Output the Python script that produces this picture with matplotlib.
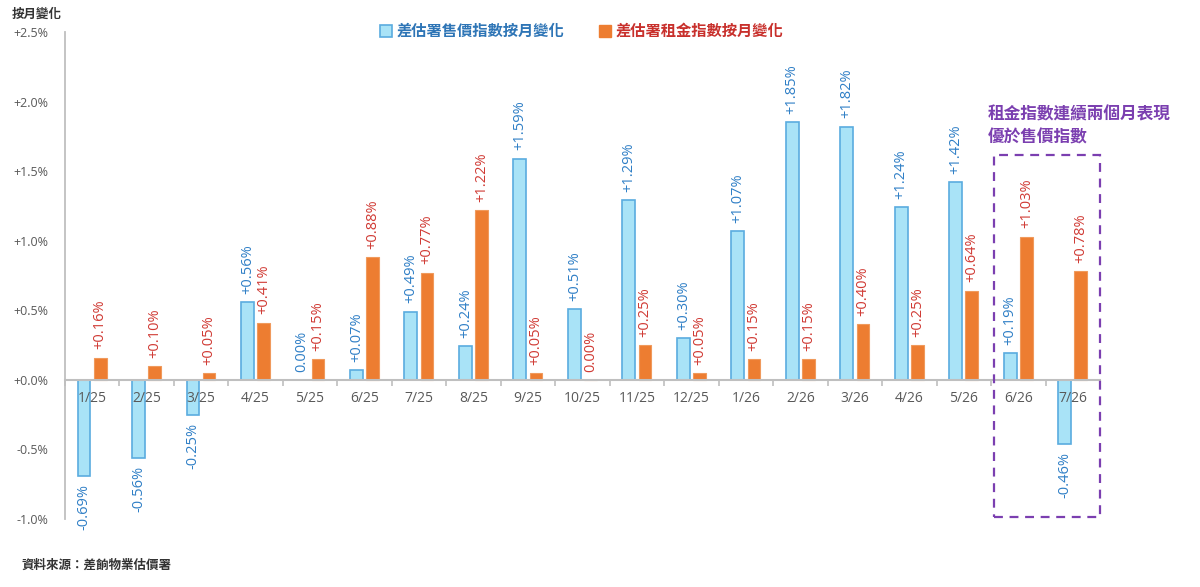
import matplotlib
matplotlib.use("Agg")
import matplotlib.pyplot as plt
from matplotlib.lines import Line2D
from matplotlib.patches import Rectangle
import numpy as np

plt.rcParams['font.family'] = ['Open Sans', 'Noto Sans CJK TC', 'DejaVu Sans']

months = ["1/25", "2/25", "3/25", "4/25", "5/25", "6/25", "7/25", "8/25", "9/25",
          "10/25", "11/25", "12/25", "1/26", "2/26", "3/26", "4/26", "5/26", "6/26", "7/26"]
sales = [-0.69, -0.56, -0.25, 0.56, 0.00, 0.07, 0.49, 0.24, 1.59, 0.51, 1.29, 0.30,
         1.07, 1.85, 1.82, 1.24, 1.42, 0.19, -0.46]
rent = [0.16, 0.10, 0.05, 0.41, 0.15, 0.88, 0.77, 1.22, 0.05, 0.00, 0.25, 0.05,
        0.15, 0.15, 0.40, 0.25, 0.64, 1.03, 0.78]
yticks = [-1.0, -0.5, 0.0, 0.5, 1.0, 1.5, 2.0, 2.5]
sales_name = "差估署售價指數按月變化"
rent_name = "差估署租金指數按月變化"
note = "租金指數連續兩個月表現\n優於售價指數"

BLUE_FILL = "#A9E3F7"
BLUE_EDGE = "#5AACDF"
BLUE_TXT = "#2F7FC6"
ORANGE = "#ED7D31"
RED_TXT = "#D03A34"
PURPLE = "#7B3FB0"
GRAY = "#595959"

fig = plt.figure(figsize=(12, 5.87), dpi=100)
ax = fig.add_axes([0.054, 0.1158, 0.8627, 0.8297])

x = np.arange(len(months))
w = 0.235
off = 0.148
ax.bar(x - off, sales, width=w, color=BLUE_FILL, edgecolor=BLUE_EDGE, linewidth=1.2, zorder=3)
ax.bar(x + off, rent, width=w, color=ORANGE, edgecolor="#F09A5C", linewidth=0.8, zorder=3)

def fmt(v):
    if abs(v) < 1e-9:
        return "0.00%"
    return f"{v:+.2f}%"

for xi, v in zip(x, sales):
    ax.annotate(fmt(v), (xi - off, v), xytext=(0, 6 if v >= 0 else -6), textcoords='offset points',
                rotation=90, ha='center', va='bottom' if v >= 0 else 'top',
                color=BLUE_TXT, fontsize=10.5, zorder=4)
for xi, v in zip(x, rent):
    ax.annotate(fmt(v), (xi + off, v), xytext=(0, 6), textcoords='offset points',
                rotation=90, ha='center', va='bottom',
                color=RED_TXT, fontsize=10.5, zorder=4)

ax.set_xlim(-0.5, len(months) - 0.5)
ax.set_ylim(-1.0, 2.5)
ax.set_yticks(yticks)
ax.set_yticklabels([("+" if t >= 0 else "") + f"{t:.1f}%" for t in yticks], color=GRAY, fontsize=9)
ax.tick_params(axis='y', length=0, pad=12)

ax.spines['bottom'].set_position(('data', 0))
ax.spines['bottom'].set_color("#BFBFBF")
ax.spines['bottom'].set_linewidth(1.5)
ax.spines['bottom'].set_zorder(3.5)
ax.spines['left'].set_color("#BFBFBF")
ax.spines['left'].set_linewidth(1.3)
ax.spines['top'].set_visible(False)
ax.spines['right'].set_visible(False)
ax.set_xticks(x)
ax.set_xticklabels([])
ax.set_xticks(np.arange(-0.5, len(months) - 0.4, 1.0), minor=True)
ax.tick_params(axis='x', which='major', length=0)
ax.tick_params(axis='x', which='minor', length=4, color="#BFBFBF", width=1.2, direction='out')
for xi, m in zip(x, months):
    ax.annotate(m, (xi, 0), xytext=(0, -8), textcoords='offset points', ha='center', va='top',
                color=GRAY, fontsize=10, zorder=5)

# legend
handles = [Line2D([], [], marker='s', linestyle='none', markersize=8, markerfacecolor=BLUE_FILL,
                  markeredgecolor=BLUE_EDGE, markeredgewidth=1.2),
           Line2D([], [], marker='s', linestyle='none', markersize=8, markerfacecolor=ORANGE,
                  markeredgecolor=ORANGE)]
leg = fig.legend(handles, [sales_name, rent_name], loc='center', bbox_to_anchor=(0.484, 0.947),
                 ncol=2, frameon=False, handletextpad=0.2, columnspacing=2.2,
                 handlelength=1.0, prop={'family': ['Noto Sans CJK TC'], 'size': 11, 'weight': 'bold'})
for t, c in zip(leg.get_texts(), ["#2E75B6", "#C8302C"]):
    t.set_color(c)

fig.text(0.010, 0.975, "按月變化", fontsize=9, fontweight='bold', color="#333333",
         family=['Noto Sans CJK TC'], va='center', ha='left')
fig.text(0.018, 0.037, "資料來源：差餉物業估價署", fontsize=9, fontweight='bold', color="#333333",
         family=['Noto Sans CJK TC'], va='center', ha='left')

# annotation box
rect = Rectangle((16.55, -0.985), 1.95, 2.6, fill=False, edgecolor=PURPLE, linestyle=(0, (4, 3)),
                 linewidth=1.6, clip_on=False, zorder=6)
ax.add_patch(rect)
fig.text(0.823, 0.785, note, fontsize=12, fontweight='bold', color=PURPLE,
         family=['Noto Sans CJK TC'], va='center', ha='left', linespacing=1.35)

fig.savefig("out.png", dpi=100)
